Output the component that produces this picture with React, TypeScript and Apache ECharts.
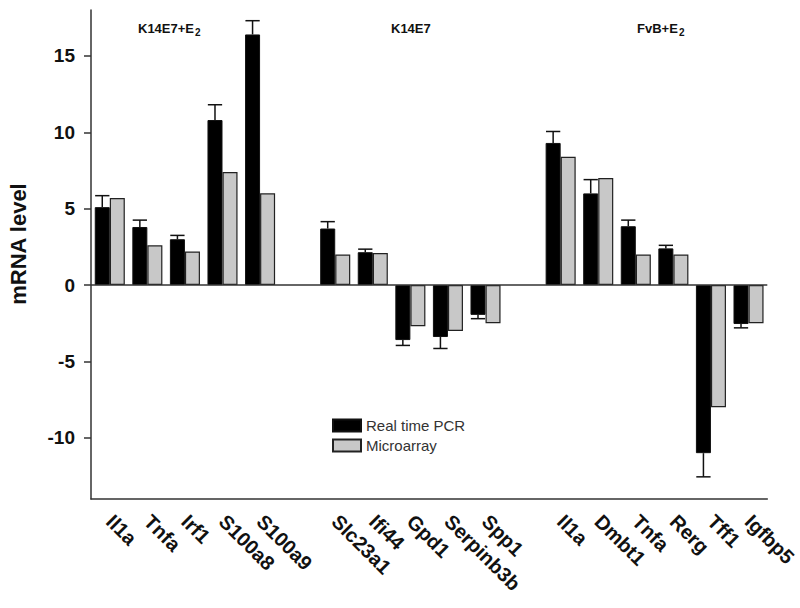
import React, { useEffect, useRef } from 'react';
import * as echarts from 'echarts';

const categories = ['Il1a', 'Tnfa', 'Irf1', 'S100a8', 'S100a9', '', 'Slc23a1', 'Ifi44', 'Gpd1', 'Serpinb3b', 'Spp1', ' ', 'Il1a', 'Dmbt1', 'Tnfa', 'Rerg', 'Tff1', 'Igfbp5'];
const realTimePCR = [5.1, 3.8, 3.0, 10.8, 16.4, null, 3.7, 2.15, -3.6, -3.4, -1.95, null, 9.3, 6.0, 3.85, 2.4, -11.0, -2.55];
const realTimePCRErrEnd = [5.85, 4.25, 3.25, 11.8, 17.3, null, 4.15, 2.35, -3.95, -4.15, -2.2, null, 10.05, 6.9, 4.25, 2.6, -12.55, -2.8];
const microarray = [5.7, 2.6, 2.2, 7.4, 6.0, null, 2.0, 2.1, -2.7, -3.0, -2.5, null, 8.4, 7.0, 2.0, 2.0, -8.0, -2.5];
const yTickValues = [-10, -5, 0, 5, 10, 15];
const groupLabelMain = ['K14E7+E', 'K14E7', 'FvB+E'];
const groupLabelSub = ['2', '', '2'];
const seriesNames = ['Real time PCR', 'Microarray'];

const FONT = '"Liberation Sans", Arial, Helvetica, sans-serif';

export default function App() {
  const ref = useRef<HTMLDivElement>(null);
  useEffect(() => {
    document.body.style.margin = '0';
    if (!ref.current) return;
    const chart = echarts.init(ref.current, undefined, { renderer: 'svg' });
    const errData = categories
      .map((_, i) => (realTimePCR[i] == null ? null : [i, realTimePCR[i], realTimePCRErrEnd[i]]))
      .filter((d) => d !== null);
    const groupLeft = [138, 391, 637];
    const subLeft = [195, 0, 679];
    const graphics: any[] = [];
    groupLabelMain.forEach((t, i) => {
      graphics.push({
        type: 'text',
        x: groupLeft[i],
        y: 28,
        style: { text: t, fontSize: 13, fontWeight: 'bold', fontFamily: FONT, fill: '#111', align: 'left', verticalAlign: 'middle' },
      });
      if (groupLabelSub[i]) {
        graphics.push({
          type: 'text',
          x: subLeft[i],
          y: 32,
          style: { text: groupLabelSub[i], fontSize: 10, fontWeight: 'bold', fontFamily: FONT, fill: '#111', align: 'left', verticalAlign: 'middle' },
        });
      }
    });
    graphics.push({
      type: 'text',
      x: 18,
      y: 244,
      rotation: Math.PI / 2,
      style: { text: 'mRNA level', fontSize: 22, fontWeight: 'bold', fontFamily: FONT, fill: '#111', align: 'center', verticalAlign: 'middle' },
    });
    chart.setOption({
      animation: false,
      backgroundColor: '#fff',
      textStyle: { fontFamily: FONT },
      grid: { left: 91, right: 28, top: 10, bottom: 109, containLabel: false },
      legend: {
        data: seriesNames,
        orient: 'vertical',
        left: 327,
        top: 413,
        itemWidth: 28,
        itemHeight: 12,
        itemGap: 5,
        icon: 'rect',
        textStyle: { fontSize: 15, color: '#333', fontFamily: FONT },
      },
      graphic: graphics,
      xAxis: {
        type: 'category',
        data: categories,
        boundaryGap: true,
        axisLine: { onZero: false, lineStyle: { color: '#333', width: 1.5 } },
        axisTick: { alignWithLabel: true, interval: 0, length: 7, lineStyle: { color: '#333', width: 1.5 } },
        axisLabel: {
          interval: 0,
          rotate: -45,
          fontSize: 20,
          fontWeight: 'bold',
          color: '#111',
          fontFamily: FONT,
          margin: 19,
        },
        splitLine: { show: false },
      },
      yAxis: {
        type: 'value',
        min: -14,
        max: 18,
        axisLine: { show: true, lineStyle: { color: '#333', width: 1.5 } },
        axisTick: { show: true, length: 7, customValues: yTickValues, lineStyle: { color: '#333', width: 1.5 } },
        axisLabel: {
          customValues: yTickValues,
          fontSize: 19,
          fontWeight: 'bold',
          color: '#111',
          fontFamily: FONT,
          margin: 16,
        },
        splitLine: { show: false },
      },
      series: [
        {
          name: seriesNames[0],
          type: 'bar',
          data: realTimePCR,
          barGap: '0%',
          barCategoryGap: '20%',
          itemStyle: { color: '#000', borderColor: '#111', borderWidth: 1 },
          markLine: {
            silent: true,
            symbol: ['none', 'none'],
            label: { show: false },
            lineStyle: { color: '#333', width: 1.5, type: 'solid' },
            data: [{ yAxis: 0 }],
          },
        },
        {
          name: seriesNames[1],
          type: 'bar',
          data: microarray,
          barGap: '0%',
          barCategoryGap: '20%',
          itemStyle: { color: '#c8c8c8', borderColor: '#222', borderWidth: 1.2 },
        },
        {
          type: 'custom',
          name: 'err',
          data: errData,
          encode: { x: 0, y: [1, 2] },
          z: 5,
          silent: true,
          renderItem: (params: any, api: any) => {
            const idx = api.value(0);
            const mean = api.value(1);
            const end = api.value(2);
            const band = api.size([1, 0])[0];
            const base = api.coord([idx, mean]);
            const tip = api.coord([idx, end]);
            const x = base[0] - band * 0.2;
            const hw = band * 0.19;
            return {
              type: 'group',
              children: [
                { type: 'line', shape: { x1: x, y1: base[1], x2: x, y2: tip[1] }, style: { stroke: '#111', lineWidth: 1.5 } },
                { type: 'line', shape: { x1: x - hw, y1: tip[1], x2: x + hw, y2: tip[1] }, style: { stroke: '#111', lineWidth: 1.5 } },
              ],
            };
          },
        },
      ],
    });
    return () => chart.dispose();
  }, []);
  return <div ref={ref} style={{ width: 800, height: 608 }} />;
}
